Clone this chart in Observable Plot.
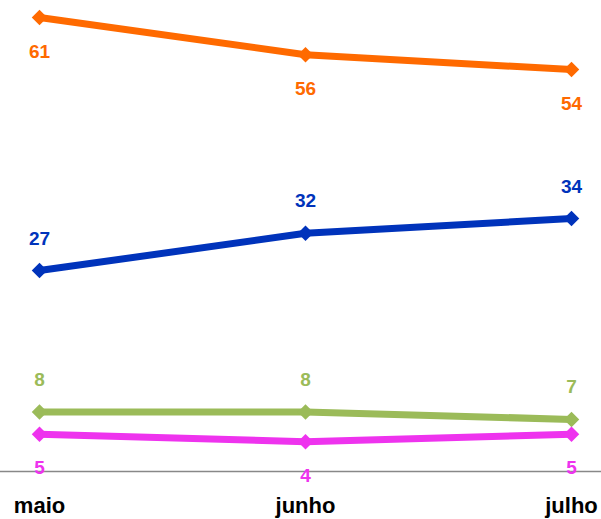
<!DOCTYPE html>
<html>
<head>
<meta charset="utf-8">
<script src="https://cdn.jsdelivr.net/npm/d3@7"></script>
<script src="https://cdn.jsdelivr.net/npm/@observablehq/plot@0.6"></script>
<style>
  html, body { margin: 0; padding: 0; background: #fff; }
  #chart svg { display: block; }
</style>
</head>
<body>
<div id="chart"></div>
<script>
const months = ["maio", "junho", "julho"];
const seriesNames = ["laranja", "azul", "verde", "magenta"];
const laranja = [61, 56, 54];
const azul = [27, 32, 34];
const verde = [8, 8, 7];
const magenta = [5, 4, 5];
const colors = ["#ff6a00", "#0033bb", "#9bbb59", "#ee33ee"];
const labelSide = [1, -1, -1, 1]; // 1 below, -1 above

const allValues = [laranja, azul, verde, magenta];
const data = [];
seriesNames.forEach((s, i) => {
  months.forEach((m, j) => {
    data.push({series: s, month: m, value: allValues[i][j], side: labelSide[i]});
  });
});
const below = data.filter(d => d.side > 0);
const above = data.filter(d => d.side < 0);

const chart = Plot.plot({
  width: 601,
  height: 519,
  marginLeft: 38,
  marginRight: 30,
  marginTop: 17,
  marginBottom: 48,
  style: {fontFamily: "'Liberation Sans', Arial, sans-serif", background: "#fff"},
  x: {type: "point", domain: months, padding: 0},
  y: {domain: [0, 61], axis: null},
  color: {domain: seriesNames, range: colors},
  marks: [
    Plot.ruleY([0], {stroke: "#888", strokeWidth: 1.5, insetLeft: -38, insetRight: -30}),
    Plot.axisX({tickSize: 0, tickPadding: 26, fontSize: 22, fontWeight: "bold", fill: "#000", label: null}),
    Plot.line(data, {x: "month", y: "value", z: "series", stroke: "series", strokeWidth: 7}),
    Plot.dot(data, {x: "month", y: "value", fill: "series", symbol: "diamond2", r: 7, stroke: null}),
    Plot.text(below, {x: "month", y: "value", text: d => String(d.value), fill: "series", dy: 34, fontSize: 19, fontWeight: "bold"}),
    Plot.text(above, {x: "month", y: "value", text: d => String(d.value), fill: "series", dy: -32, fontSize: 19, fontWeight: "bold"})
  ]
});
document.getElementById("chart").appendChild(chart);
</script>
</body>
</html>
